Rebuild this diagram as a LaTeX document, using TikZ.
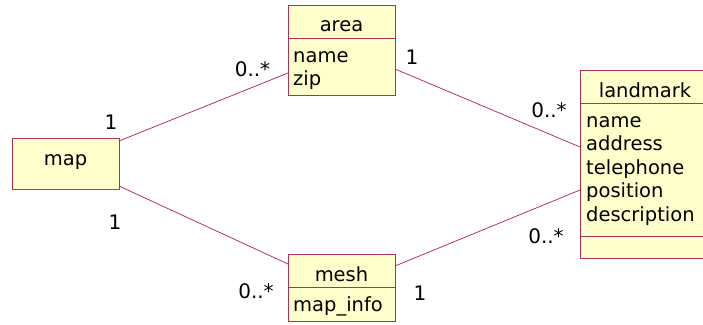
\documentclass[tikz,border=0pt]{standalone}
\usepackage{fontspec}
\setmainfont{DejaVu Sans}
\definecolor{bord}{HTML}{B03058}
\definecolor{fillc}{HTML}{FFFFCC}
\definecolor{linec}{HTML}{A82050}
\tikzset{
  cls/.style={draw=bord, fill=fillc, line width=0.9pt},
  txt/.style={inner sep=0pt, font=\fontsize{19.5}{23.7}\selectfont, anchor=base west},
  ttl/.style={inner sep=0pt, font=\fontsize{19.5}{23.7}\selectfont, anchor=base},
  mult/.style={inner sep=0pt, font=\fontsize{20}{22}\selectfont, anchor=base},
  assoc/.style={draw=linec, line width=0.7pt},
}
\begin{document}
\begin{tikzpicture}[x=1pt,y=-1pt]
\useasboundingbox (0,0) rectangle (703,324);
% area
\path[cls] (288,5) rectangle (395,95);
\draw[bord, line width=0.9pt] (288,38) -- (395,38);
\node[ttl] (areat) at (341.5,31) {area};
\node[txt] (arean) at (293,62) {name};
\node[txt] (areaz) at (293,85) {zip};
\coordinate (areaL) at (288,73);
\coordinate (areaR) at (395,69);
% landmark
\path[cls] (580,70) rectangle (708,258);
\draw[bord, line width=0.9pt] (580,103) -- (708,103);
\draw[bord, line width=0.9pt] (580,236) -- (708,236);
\node[ttl] (lmt) at (645,97) {landmark};
\node[txt] (lm1) at (586,127) {name};
\node[txt] (lm2) at (586,150.5) {address};
\node[txt] (lm3) at (586,174) {telephone};
\node[txt] (lm4) at (586,197.5) {position};
\node[txt] (lm5) at (586,221.5) {description};
\coordinate (lmA) at (580,147);
\coordinate (lmB) at (580,190);
% map
\path[cls] (12,138) rectangle (119,189);
\node[ttl] (map) at (65.5,165) {map};
\coordinate (mapA) at (119,141);
\coordinate (mapB) at (119,186);
% mesh
\path[cls] (288,254) rectangle (395,321);
\draw[bord, line width=0.9pt] (288,287) -- (395,287);
\node[ttl] (mesht) at (341.5,281) {mesh};
\node[txt] (meshi) at (293,311) {map\_info};
\coordinate (meshL) at (288,264);
\coordinate (meshR) at (395,266);

% associations
\draw[assoc] (mapA) -- (areaL);
\draw[assoc] (mapB) -- (meshL);
\draw[assoc] (areaR) -- (lmA);
\draw[assoc] (meshR) -- (lmB);

% multiplicities
\node[mult] (m1) at (111,129.5) {1};
\node[mult] (m2) at (252.5,76) {0..*};
\node[mult] (m3) at (412,64.5) {1};
\node[mult] (m4) at (549,117.5) {0..*};
\node[mult] (m5) at (115,229.5) {1};
\node[mult] (m6) at (256,298.5) {0..*};
\node[mult] (m7) at (420,300.5) {1};
\node[mult] (m8) at (546,243.5) {0..*};
\end{tikzpicture}
\end{document}
